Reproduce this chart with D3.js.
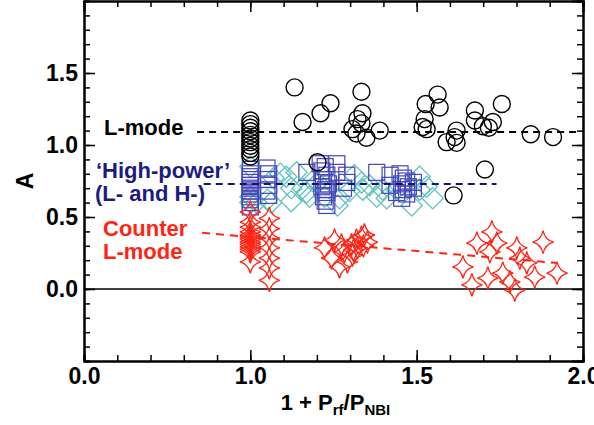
<!DOCTYPE html>
<html>
<head>
<meta charset="utf-8">
<script src="https://cdn.jsdelivr.net/npm/d3@7"></script>
<style>
  html, body { margin: 0; padding: 0; background: #fff; overflow: hidden; }
  svg { display: block; }
  text { font-family: "Liberation Sans", Arial, sans-serif; font-weight: bold; }
</style>
</head>
<body>
<div id="chart"></div>
<script>
// Axis ticks
const xTickValues = [0.5, 1.0, 1.5, 2.0];
const xTickLabels = ["0.0", "1.0", "1.5", "2.0"];
const yTickValues = [0.0, 0.5, 1.0, 1.5];
const yTickLabels = ["0.0", "0.5", "1.0", "1.5"];

// L-mode (circles)
const lModePoints = [
  [1.0, 1.17], [1.0, 1.145], [1.0, 1.12], [1.0, 1.095], [1.0, 1.07], [1.0, 1.045],
  [1.0, 1.02], [1.0, 0.995], [1.0, 0.97], [1.0, 0.945], [1.0, 0.92],
  [1.133, 1.40], [1.157, 1.16], [1.211, 1.22], [1.241, 1.29], [1.202, 0.88],
  [1.334, 1.37], [1.337, 1.22], [1.322, 1.18], [1.334, 1.15], [1.307, 1.11],
  [1.319, 1.08], [1.349, 1.05], [1.389, 1.10],
  [1.527, 1.285], [1.524, 1.18], [1.518, 1.125], [1.530, 1.11], [1.563, 1.35], [1.569, 1.26],
  [1.620, 1.10], [1.590, 1.02], [1.614, 1.055], [1.620, 1.015], [1.611, 0.65],
  [1.675, 1.24], [1.675, 1.17], [1.699, 1.13], [1.729, 1.16], [1.717, 1.12],
  [1.756, 1.285], [1.705, 0.83], [1.843, 1.075], [1.910, 1.055]
];

// High-power, diamonds
const highPowerDiamonds = [
  [1.0, 0.85], [1.0, 0.64], [1.0, 0.60], [1.018, 0.60], [1.051, 0.62], [1.063, 0.60],
  [1.07, 0.77], [1.09, 0.80], [1.108, 0.78], [1.139, 0.81], [1.123, 0.70], [1.123, 0.61],
  [1.157, 0.70], [1.169, 0.67], [1.187, 0.75], [1.178, 0.64], [1.202, 0.74], [1.223, 0.64],
  [1.268, 0.63], [1.262, 0.58], [1.298, 0.68], [1.313, 0.79], [1.334, 0.74], [1.338, 0.69],
  [1.358, 0.72], [1.380, 0.64], [1.398, 0.69], [1.410, 0.63], [1.44, 0.69], [1.485, 0.58],
  [1.509, 0.69], [1.509, 0.78], [1.530, 0.71], [1.548, 0.63]
];

// High-power, squares
const highPowerSquares = [
  [1.0, 0.83], [1.0, 0.80], [1.0, 0.78], [1.0, 0.76], [1.0, 0.74], [1.0, 0.72], [1.0, 0.70],
  [1.0, 0.68], [1.0, 0.66], [1.0, 0.64], [1.0, 0.62], [1.0, 0.60], [1.0, 0.57],
  [1.05, 0.84], [1.055, 0.80], [1.05, 0.76], [1.055, 0.72], [1.05, 0.68], [1.055, 0.65],
  [1.17, 0.81],
  [1.21, 0.87], [1.225, 0.85], [1.215, 0.82], [1.23, 0.79], [1.22, 0.76], [1.235, 0.73],
  [1.215, 0.71], [1.225, 0.69], [1.23, 0.67], [1.22, 0.64], [1.225, 0.61], [1.23, 0.58],
  [1.26, 0.87], [1.26, 0.81], [1.29, 0.79], [1.29, 0.74], [1.28, 0.70],
  [1.38, 0.81], [1.42, 0.79], [1.42, 0.72], [1.44, 0.67],
  [1.45, 0.80], [1.46, 0.77], [1.47, 0.75], [1.455, 0.73], [1.475, 0.71], [1.46, 0.69],
  [1.47, 0.66], [1.455, 0.63], [1.49, 0.74], [1.49, 0.70]
];

// Counter L-mode (stars)
const counterPoints = [
  [1.0, 0.535], [1.0, 0.465], [1.0, 0.43], [1.0, 0.396], [1.0, 0.375], [1.0, 0.361],
  [1.0, 0.345], [1.0, 0.326], [1.0, 0.31], [1.0, 0.292], [1.0, 0.275], [1.0, 0.257], [1.0, 0.188],
  [1.057, 0.49], [1.057, 0.42], [1.057, 0.354], [1.057, 0.285], [1.057, 0.215], [1.057, 0.146], [1.057, 0.06],
  [1.223, 0.285], [1.253, 0.34], [1.244, 0.215], [1.268, 0.153], [1.283, 0.257], [1.304, 0.306],
  [1.319, 0.34], [1.334, 0.361], [1.343, 0.375], [1.352, 0.326], [1.307, 0.236], [1.292, 0.188],
  [1.322, 0.285], [1.274, 0.306], [1.34, 0.30], [1.31, 0.27],
  [1.639, 0.153], [1.666, 0.028], [1.726, 0.396], [1.741, 0.319], [1.720, 0.257], [1.681, 0.319],
  [1.714, 0.076], [1.759, 0.111], [1.801, 0.285], [1.810, 0.215], [1.795, -0.007], [1.855, 0.083],
  [1.880, 0.326], [1.922, 0.111], [1.831, 0.181], [1.78, 0.05]
];

// Fit lines (end points)
const lModeFit = [[0.84, 1.09], [1.98, 1.09]];
const highPowerFit = [[0.86, 0.73], [1.74, 0.73]];
const counterFit = [[0.855, 0.39], [1.925, 0.18]];

/*******************************/
/*    Declare the constants    */
/*******************************/
const width = 594;
const height = 425;
const margin = {top: 1, right: 11, bottom: 64, left: 84};
const innerWidth = width - margin.left - margin.right;
const innerHeight = height - margin.top - margin.bottom;
const red = "#ff2414";
const navy = "#1c1c80";

const svg = d3.select("#chart")
  .append("svg")
    .attr("width", width)
    .attr("height", height);

const innerChart = svg
  .append("g")
    .attr("transform", `translate(${margin.left}, ${margin.top})`);

/****************************/
/*    Declare the scales    */
/****************************/
const xScale = d3.scaleLinear()
  .domain([0.5, 2.0])
  .range([0, innerWidth]);

const yScale = d3.scaleLinear()
  .domain([-0.5, 2.0])
  .range([innerHeight, 0]);

const xMinor = d3.range(0.5, 2.001, 0.1);
const yMinor = d3.range(-0.5, 2.001, 0.1);

/**************************/
/*      Add the axes      */
/**************************/
const styleAxis = g => {
  g.select(".domain").attr("stroke", "#000").attr("stroke-width", 2);
  g.selectAll(".tick line").attr("stroke", "#000").attr("stroke-width", 1.5);
};
const noLabels = g => g.selectAll(".tick text").remove();

// minor ticks on all four sides
innerChart.append("g")
  .attr("transform", `translate(0, ${innerHeight})`)
  .call(d3.axisBottom(xScale).tickValues(xMinor).tickSize(-6))
  .call(styleAxis).call(noLabels);
innerChart.append("g")
  .call(d3.axisTop(xScale).tickValues(xMinor).tickSize(-6))
  .call(styleAxis).call(noLabels);
innerChart.append("g")
  .call(d3.axisLeft(yScale).tickValues(yMinor).tickSize(-6))
  .call(styleAxis).call(noLabels);
innerChart.append("g")
  .attr("transform", `translate(${innerWidth}, 0)`)
  .call(d3.axisRight(yScale).tickValues(yMinor).tickSize(-6))
  .call(styleAxis).call(noLabels);

// major ticks
const bottomAxis = d3.axisBottom(xScale)
  .tickValues(xTickValues)
  .tickSizeInner(-11)
  .tickSizeOuter(0)
  .tickPadding(7)
  .tickFormat((d, i) => xTickLabels[i]);
innerChart.append("g")
  .attr("transform", `translate(0, ${innerHeight})`)
  .call(bottomAxis)
  .call(styleAxis)
  .selectAll("text")
    .attr("fill", "#000")
    .style("font-size", "23px");

innerChart.append("g")
  .call(d3.axisTop(xScale).tickValues(xTickValues).tickSize(-11))
  .call(styleAxis).call(noLabels);

const leftAxis = d3.axisLeft(yScale)
  .tickValues(yTickValues)
  .tickSizeInner(-11)
  .tickSizeOuter(0)
  .tickPadding(6)
  .tickFormat((d, i) => yTickLabels[i]);
innerChart.append("g")
  .call(leftAxis)
  .call(styleAxis)
  .selectAll("text")
    .attr("fill", "#000")
    .style("font-size", "23px");

innerChart.append("g")
  .attr("transform", `translate(${innerWidth}, 0)`)
  .call(d3.axisRight(yScale).tickValues(yTickValues).tickSize(-11))
  .call(styleAxis).call(noLabels);

// zero line
innerChart.append("line")
  .attr("x1", 0)
  .attr("x2", innerWidth)
  .attr("y1", yScale(0))
  .attr("y2", yScale(0))
  .attr("stroke", "#000")
  .attr("stroke-width", 1.3);

// axis titles
svg.append("text")
  .attr("transform", `translate(33, ${margin.top + yScale(0.75)}) rotate(-90)`)
  .attr("text-anchor", "middle")
  .style("font-size", "23px")
  .text("A");

const xTitle = svg.append("text")
  .attr("x", margin.left + innerWidth / 2 + 2)
  .attr("y", 410)
  .attr("text-anchor", "middle")
  .style("font-size", "22px");
xTitle.append("tspan").text("1 + P");
xTitle.append("tspan").attr("dy", 5).style("font-size", "15px").text("rf");
xTitle.append("tspan").attr("dy", -5).text("/P");
xTitle.append("tspan").attr("dy", 5).style("font-size", "15px").text("NBI");

/******************************/
/*      Add the markers       */
/******************************/
const squareSize = 16;
innerChart.append("g")
  .selectAll("rect")
  .data(highPowerDiamonds)
  .join("rect")
    .attr("x", -7.5)
    .attr("y", -7.5)
    .attr("width", 15)
    .attr("height", 15)
    .attr("transform", d => `translate(${xScale(d[0])}, ${yScale(d[1])}) rotate(45)`)
    .attr("fill", "none")
    .attr("stroke", "#5fc3c0")
    .attr("stroke-width", 1.3);

innerChart.append("g")
  .selectAll("rect")
  .data(highPowerSquares)
  .join("rect")
    .attr("x", d => xScale(d[0]) - squareSize / 2)
    .attr("y", d => yScale(d[1]) - squareSize / 2)
    .attr("width", squareSize)
    .attr("height", squareSize)
    .attr("fill", "none")
    .attr("stroke", "#4646b8")
    .attr("stroke-width", 1.2);

innerChart.append("g")
  .selectAll("circle")
  .data(lModePoints)
  .join("circle")
    .attr("cx", d => xScale(d[0]))
    .attr("cy", d => yScale(d[1]))
    .attr("r", 8.5)
    .attr("fill", "none")
    .attr("stroke", "#000")
    .attr("stroke-width", 1.4);

const starPath = (rx, ry) => {
  const kx = rx * 0.18, ky = ry * 0.18;
  return `M0,${-ry} Q${kx},${-ky} ${rx},0 Q${kx},${ky} 0,${ry} Q${-kx},${ky} ${-rx},0 Q${-kx},${-ky} 0,${-ry} Z`;
};
innerChart.append("g")
  .selectAll("path")
  .data(counterPoints)
  .join("path")
    .attr("d", starPath(10.5, 11.5))
    .attr("transform", d => `translate(${xScale(d[0])}, ${yScale(d[1])})`)
    .attr("fill", "none")
    .attr("stroke", red)
    .attr("stroke-width", 1.3);

/******************************/
/*      Add the fit lines     */
/******************************/
const line = d3.line()
  .x(d => xScale(d[0]))
  .y(d => yScale(d[1]));

innerChart.append("path")
  .attr("d", line(lModeFit))
  .attr("fill", "none")
  .attr("stroke", "#000")
  .attr("stroke-width", 2)
  .attr("stroke-dasharray", "7,5");
innerChart.append("path")
  .attr("d", line(highPowerFit))
  .attr("fill", "none")
  .attr("stroke", "#14146e")
  .attr("stroke-width", 2)
  .attr("stroke-dasharray", "7,5");
innerChart.append("path")
  .attr("d", line(counterFit))
  .attr("fill", "none")
  .attr("stroke", red)
  .attr("stroke-width", 2)
  .attr("stroke-dasharray", "8,6");

/******************************/
/*      Add the labels        */
/******************************/
const addLabel = (txt, x, y, color) => {
  svg.append("text")
    .attr("x", x)
    .attr("y", y)
    .attr("fill", color)
    .style("font-size", "22px")
    .text(txt);
};
addLabel("L-mode", 104, 135, "#000");
addLabel("\u2018High-power\u2019", 96, 178, navy);
addLabel("(L- and H-)", 95, 201, navy);
addLabel("Counter", 103, 236, red);
addLabel("L-mode", 103, 259, red);
</script>
</body>
</html>
